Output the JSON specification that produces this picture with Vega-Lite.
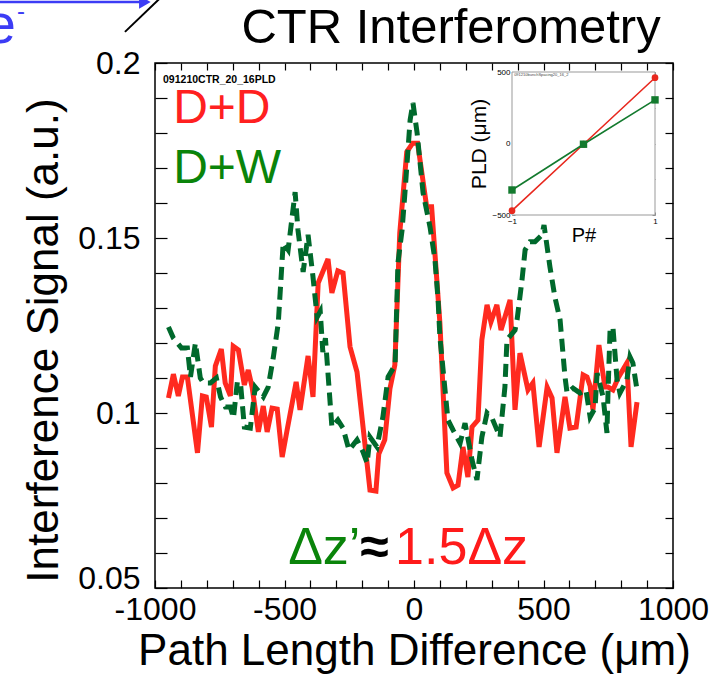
{
"$schema": "https://vega.github.io/schema/vega-lite/v6.json",
"width": 518, "height": 525,
"autosize": {"type": "none"},
"padding": {"left": 155, "top": 63, "right": 37, "bottom": 89},
"background": "white",
"config": {"font": "Liberation Sans", "view": {"stroke": "black", "strokeWidth": 1.5},
  "axis": {"domain": false, "grid": false, "labelFont": "Liberation Sans", "titleFont": "Liberation Sans", "tickColor": "black", "labelColor": "black", "titleColor": "black", "titleFontWeight": "normal", "labelFlush": false, "labelOverlap": false}},
"datasets": {
 "dd": [
  {"x":-948,"y":0.1043},{"x":-929,"y":0.1111},{"x":-910,"y":0.1049},{"x":-894,"y":0.1103},{"x":-875,"y":0.1103},{"x":-836,"y":0.0886},{"x":-817,"y":0.1049},{"x":-802,"y":0.1046},{"x":-782,"y":0.0960},{"x":-767,"y":0.1134},{"x":-744,"y":0.1183},{"x":-729,"y":0.1086},{"x":-709,"y":0.1049},{"x":-698,"y":0.1191},{"x":-678,"y":0.1180},{"x":-655,"y":0.1080},{"x":-640,"y":0.1123},{"x":-625,"y":0.1074},{"x":-601,"y":0.0946},{"x":-582,"y":0.1020},{"x":-567,"y":0.0946},{"x":-548,"y":0.1014},{"x":-528,"y":0.1011},{"x":-509,"y":0.0874},{"x":-490,"y":0.0951},{"x":-455,"y":0.1089},{"x":-440,"y":0.1009},{"x":-409,"y":0.1163},{"x":-390,"y":0.1046},{"x":-370,"y":0.1371},{"x":-332,"y":0.1440},{"x":-317,"y":0.1343},{"x":-294,"y":0.1406},{"x":-274,"y":0.1400},{"x":-247,"y":0.1189},{"x":-220,"y":0.1117},{"x":-170,"y":0.0780},{"x":-147,"y":0.0777},{"x":-136,"y":0.0883},{"x":-113,"y":0.0923},{"x":-93,"y":0.1069},{"x":-74,"y":0.1137},{"x":-55,"y":0.1514},{"x":-28,"y":0.1746},{"x":-5,"y":0.1771},{"x":14,"y":0.1771},{"x":49,"y":0.1589},{"x":68,"y":0.1589},{"x":100,"y":0.1257},{"x":127,"y":0.0829},{"x":151,"y":0.0786},{"x":170,"y":0.0794},{"x":189,"y":0.0903},{"x":208,"y":0.0817},{"x":224,"y":0.0960},{"x":247,"y":0.0980},{"x":262,"y":0.1209},{"x":282,"y":0.1309},{"x":297,"y":0.1260},{"x":320,"y":0.1309},{"x":336,"y":0.1237},{"x":371,"y":0.1323},{"x":390,"y":0.1009},{"x":409,"y":0.1171},{"x":440,"y":0.1066},{"x":459,"y":0.1086},{"x":483,"y":0.0903},{"x":514,"y":0.1074},{"x":533,"y":0.1043},{"x":552,"y":0.0886},{"x":583,"y":0.1046},{"x":602,"y":0.0957},{"x":626,"y":0.0960},{"x":653,"y":0.1109},{"x":668,"y":0.1103},{"x":680,"y":0.1077},{"x":691,"y":0.1009},{"x":714,"y":0.1194},{"x":737,"y":0.1074},{"x":749,"y":0.1074},{"x":768,"y":0.1066},{"x":788,"y":0.1100},{"x":822,"y":0.1143},{"x":838,"y":0.0903},{"x":861,"y":0.1031}
 ],
 "dw": [
  {"x":-948,"y":0.1246},{"x":-929,"y":0.1214},{"x":-898,"y":0.1186},{"x":-875,"y":0.1186},{"x":-863,"y":0.1103},{"x":-844,"y":0.1200},{"x":-825,"y":0.1100},{"x":-813,"y":0.1086},{"x":-786,"y":0.1086},{"x":-763,"y":0.1100},{"x":-747,"y":0.1046},{"x":-728,"y":0.1017},{"x":-709,"y":0.1017},{"x":-697,"y":0.0986},{"x":-682,"y":0.1089},{"x":-670,"y":0.1086},{"x":-655,"y":0.0960},{"x":-632,"y":0.0957},{"x":-613,"y":0.1074},{"x":-582,"y":0.1046},{"x":-563,"y":0.1074},{"x":-543,"y":0.1160},{"x":-524,"y":0.1257},{"x":-505,"y":0.1486},{"x":-486,"y":0.1466},{"x":-459,"y":0.1631},{"x":-448,"y":0.1523},{"x":-428,"y":0.1403},{"x":-409,"y":0.1509},{"x":-390,"y":0.1389},{"x":-374,"y":0.1274},{"x":-362,"y":0.1290},{"x":-352,"y":0.1174},{"x":-342,"y":0.1214},{"x":-317,"y":0.0960},{"x":-294,"y":0.0980},{"x":-274,"y":0.0957},{"x":-251,"y":0.0894},{"x":-220,"y":0.0923},{"x":-197,"y":0.0889},{"x":-181,"y":0.0857},{"x":-170,"y":0.0931},{"x":-143,"y":0.0903},{"x":-120,"y":0.0989},{"x":-100,"y":0.1103},{"x":-73,"y":0.1137},{"x":-62,"y":0.1429},{"x":-46,"y":0.1523},{"x":-35,"y":0.1629},{"x":-15,"y":0.1837},{"x":-4,"y":0.1886},{"x":12,"y":0.1800},{"x":35,"y":0.1629},{"x":62,"y":0.1531},{"x":81,"y":0.1437},{"x":93,"y":0.1323},{"x":100,"y":0.1217},{"x":131,"y":0.0980},{"x":151,"y":0.0951},{"x":178,"y":0.0914},{"x":197,"y":0.0971},{"x":224,"y":0.0866},{"x":243,"y":0.0809},{"x":262,"y":0.0931},{"x":282,"y":0.1000},{"x":301,"y":0.0986},{"x":332,"y":0.0931},{"x":351,"y":0.1074},{"x":359,"y":0.1209},{"x":390,"y":0.1237},{"x":398,"y":0.1266},{"x":417,"y":0.1380},{"x":429,"y":0.1466},{"x":448,"y":0.1489},{"x":467,"y":0.1489},{"x":494,"y":0.1509},{"x":502,"y":0.1537},{"x":525,"y":0.1417},{"x":544,"y":0.1331},{"x":564,"y":0.1266},{"x":583,"y":0.1103},{"x":591,"y":0.1057},{"x":614,"y":0.1071},{"x":641,"y":0.1057},{"x":664,"y":0.1066},{"x":680,"y":0.0989},{"x":699,"y":0.1014},{"x":707,"y":0.1114},{"x":730,"y":0.1046},{"x":745,"y":0.0943},{"x":749,"y":0.1057},{"x":757,"y":0.1237},{"x":768,"y":0.1246},{"x":784,"y":0.1094},{"x":795,"y":0.1057},{"x":822,"y":0.1094},{"x":834,"y":0.1160},{"x":845,"y":0.1143},{"x":861,"y":0.1066}
 ],
 "inset": [
  {"s":"D+D","p":-1,"pld":-470},{"s":"D+D","p":0,"pld":-5},{"s":"D+D","p":1,"pld":460},
  {"s":"D+W","p":-1,"pld":-325},{"s":"D+W","p":0,"pld":-5},{"s":"D+W","p":1,"pld":305}
 ],
 "one": [{}]
},
"layer": [
 {
  "layer": [
   {"data": {"name": "dd"}, "mark": {"type": "line", "color": "#ff2a1f", "strokeWidth": 5},
    "encoding": {
     "x": {"field": "x", "type": "quantitative", "scale": {"domain": [-1000, 1000], "nice": false, "zero": false},
       "axis": {"orient": "bottom", "values": [-1000,-900,-800,-700,-600,-500,-400,-300,-200,-100,0,100,200,300,400,500,600,700,800,900,1000],
         "labelExpr": "datum.value % 500 == 0 ? toString(datum.value) : ''", "tickSize": -8, "tickWidth": 1.2,
         "labelFontSize": 32, "labelPadding": 14, "title": "Path Length Difference (μm)", "titleFontSize": 44, "titlePadding": 4}},
     "y": {"field": "y", "type": "quantitative", "scale": {"domain": [0.05, 0.2], "nice": false, "zero": false},
       "axis": {"orient": "left", "values": [0.05,0.06,0.07,0.08,0.09,0.1,0.11,0.12,0.13,0.14,0.15,0.16,0.17,0.18,0.19,0.2],
         "labelExpr": "indexof([5,10,15,20], round(datum.value*100)) >= 0 ? toString(round(datum.value*100)/100) : ''",
         "labelBaseline": {"condition": {"test": "round(datum.value*100) == 5", "value": "alphabetic"}, "value": "middle"},
         "tickSize": -12, "tickWidth": 1.2,
         "labelFontSize": 32, "labelPadding": 27, "title": "Interference Signal (a.u.)", "titleFontSize": 44, "titlePadding": 11, "titleY": 277}}
    }},
   {"data": {"name": "dw"}, "mark": {"type": "line", "color": "#00692c", "strokeWidth": 5, "strokeDash": [13, 7]},
    "encoding": {
     "x": {"field": "x", "type": "quantitative", "scale": {"domain": [-1000, 1000], "nice": false, "zero": false},
       "axis": {"orient": "top", "values": [-1000,-900,-800,-700,-600,-500,-400,-300,-200,-100,0,100,200,300,400,500,600,700,800,900,1000], "labels": false, "title": null, "tickSize": -7, "tickWidth": 1.2}},
     "y": {"field": "y", "type": "quantitative", "scale": {"domain": [0.05, 0.2], "nice": false, "zero": false},
       "axis": {"orient": "right", "values": [0.05,0.06,0.07,0.08,0.09,0.1,0.11,0.12,0.13,0.14,0.15,0.16,0.17,0.18,0.19,0.2], "labels": false, "title": null, "tickSize": -8, "tickWidth": 1.2}}
    }},
   {"data": {"name": "one"}, "mark": {"type": "text", "text": "091210CTR_20_16PLD", "align": "left", "baseline": "alphabetic", "fontSize": 10.5, "fontWeight": "bold", "color": "black"},
    "encoding": {"x": {"datum": -969, "type": "quantitative", "scale": {"domain": [-1000, 1000], "nice": false, "zero": false}, "axis": null},
                 "y": {"datum": 0.1943, "type": "quantitative", "scale": {"domain": [0.05, 0.2], "nice": false, "zero": false}, "axis": null}}},
   {"data": {"name": "one"}, "mark": {"type": "text", "text": "D+D", "align": "left", "baseline": "alphabetic", "fontSize": 48, "color": "#ff2020"},
    "encoding": {"x": {"datum": -930, "type": "quantitative", "scale": {"domain": [-1000, 1000], "nice": false, "zero": false}, "axis": null},
                 "y": {"datum": 0.1829, "type": "quantitative", "scale": {"domain": [0.05, 0.2], "nice": false, "zero": false}, "axis": null}}},
   {"data": {"name": "one"}, "mark": {"type": "text", "text": "D+W", "align": "left", "baseline": "alphabetic", "fontSize": 48, "color": "#0a840a"},
    "encoding": {"x": {"datum": -930, "type": "quantitative", "scale": {"domain": [-1000, 1000], "nice": false, "zero": false}, "axis": null},
                 "y": {"datum": 0.1657, "type": "quantitative", "scale": {"domain": [0.05, 0.2], "nice": false, "zero": false}, "axis": null}}},
   {"data": {"name": "one"}, "mark": {"type": "text", "text": "Δz’", "align": "left", "baseline": "alphabetic", "fontSize": 52, "color": "#0a840a"},
    "encoding": {"x": {"datum": -486, "type": "quantitative", "scale": {"domain": [-1000, 1000], "nice": false, "zero": false}, "axis": null},
                 "y": {"datum": 0.0569, "type": "quantitative", "scale": {"domain": [0.05, 0.2], "nice": false, "zero": false}, "axis": null}}},
   {"data": {"name": "one"}, "mark": {"type": "text", "text": "≈", "align": "left", "baseline": "alphabetic", "fontSize": 52, "fontWeight": "bold", "color": "black"},
    "encoding": {"x": {"datum": -208, "type": "quantitative", "scale": {"domain": [-1000, 1000], "nice": false, "zero": false}, "axis": null},
                 "y": {"datum": 0.0569, "type": "quantitative", "scale": {"domain": [0.05, 0.2], "nice": false, "zero": false}, "axis": null}}},
   {"data": {"name": "one"}, "mark": {"type": "text", "text": "1.5Δz", "align": "left", "baseline": "alphabetic", "fontSize": 52, "color": "#ff1a1a"},
    "encoding": {"x": {"datum": -73, "type": "quantitative", "scale": {"domain": [-1000, 1000], "nice": false, "zero": false}, "axis": null},
                 "y": {"datum": 0.0569, "type": "quantitative", "scale": {"domain": [0.05, 0.2], "nice": false, "zero": false}, "axis": null}}},
   {"data": {"name": "one"}, "mark": {"type": "text", "text": "CTR Interferometry", "align": "center", "baseline": "alphabetic", "fontSize": 49, "color": "black"},
    "encoding": {"x": {"datum": 143, "type": "quantitative", "scale": {"domain": [-1000, 1000], "nice": false, "zero": false}, "axis": null},
                 "y": {"datum": 0.2057, "type": "quantitative", "scale": {"domain": [0.05, 0.2], "nice": false, "zero": false}, "axis": null}}},
   {"data": {"name": "one"}, "mark": {"type": "text", "text": "e", "align": "right", "baseline": "alphabetic", "fontSize": 56, "color": "#3c3cf5"},
    "encoding": {"x": {"datum": -1537, "type": "quantitative", "scale": {"domain": [-1000, 1000], "nice": false, "zero": false}, "axis": null},
                 "y": {"datum": 0.2057, "type": "quantitative", "scale": {"domain": [0.05, 0.2], "nice": false, "zero": false}, "axis": null}}},
   {"data": {"name": "one"}, "mark": {"type": "text", "text": "-", "align": "left", "baseline": "alphabetic", "fontSize": 24, "color": "#3c3cf5"},
    "encoding": {"x": {"datum": -1533, "type": "quantitative", "scale": {"domain": [-1000, 1000], "nice": false, "zero": false}, "axis": null},
                 "y": {"datum": 0.2127, "type": "quantitative", "scale": {"domain": [0.05, 0.2], "nice": false, "zero": false}, "axis": null}}},
   {"data": {"name": "one"}, "mark": {"type": "rule", "color": "#3c3cf5", "strokeWidth": 2.5},
    "encoding": {"x": {"datum": -1600, "type": "quantitative", "scale": {"domain": [-1000, 1000], "nice": false, "zero": false}, "axis": null},
                 "x2": {"datum": -1045},
                 "y": {"datum": 0.2174, "type": "quantitative", "scale": {"domain": [0.05, 0.2], "nice": false, "zero": false}, "axis": null}}},
   {"data": {"name": "one"}, "mark": {"type": "point", "shape": "triangle-right", "filled": true, "size": 180, "color": "#3c3cf5", "opacity": 1},
    "encoding": {"x": {"datum": -1039, "type": "quantitative", "scale": {"domain": [-1000, 1000], "nice": false, "zero": false}, "axis": null},
                 "y": {"datum": 0.2174, "type": "quantitative", "scale": {"domain": [0.05, 0.2], "nice": false, "zero": false}, "axis": null}}},
   {"data": {"name": "one"}, "mark": {"type": "rule", "color": "black", "strokeWidth": 2},
    "encoding": {"x": {"datum": -1116, "type": "quantitative", "scale": {"domain": [-1000, 1000], "nice": false, "zero": false}, "axis": null},
                 "x2": {"datum": -975},
                 "y": {"datum": 0.2089, "type": "quantitative", "scale": {"domain": [0.05, 0.2], "nice": false, "zero": false}, "axis": null},
                 "y2": {"datum": 0.2189}}}
  ],
  "resolve": {"axis": {"x": "independent", "y": "independent"}}
 },
 {
  "layer": [
   {"data": {"name": "one"}, "mark": {"type": "rect", "fill": "white", "stroke": "#999999", "strokeWidth": 1},
    "encoding": {
     "x": {"datum": -1, "type": "quantitative", "scale": {"domain": [-1, 1], "range": [357, 500], "nice": false, "zero": false},
       "axis": {"orient": "bottom", "offset": -373, "values": [-1, 0, 1], "format": "d", "tickSize": -3, "tickColor": "#888888", "labelFontSize": 8, "labelPadding": 5, "title": "P#", "titleFontSize": 20, "titlePadding": 0}},
     "x2": {"datum": 1},
     "y": {"datum": -500, "type": "quantitative", "scale": {"domain": [-500, 500], "range": [152, 9], "nice": false, "zero": false},
       "axis": {"orient": "left", "offset": -357, "values": [-500, 0, 500], "format": "d", "tickSize": -3, "tickColor": "#888888", "labelFontSize": 8, "labelPadding": 5, "title": "PLD (μm)", "titleFontSize": 21, "titlePadding": 2}},
     "y2": {"datum": 500}
    }},
   {"data": {"name": "inset"}, "mark": {"type": "line", "strokeWidth": 1.6},
    "encoding": {
     "x": {"field": "p", "type": "quantitative", "scale": {"domain": [-1, 1], "range": [357, 500], "nice": false, "zero": false},
       "axis": {"orient": "top", "offset": -9, "values": [-1, -0.5, 0, 0.5, 1], "labels": false, "title": null, "tickSize": -3, "tickColor": "#888888"}},
     "y": {"field": "pld", "type": "quantitative", "scale": {"domain": [-500, 500], "range": [152, 9], "nice": false, "zero": false},
       "axis": {"orient": "right", "offset": -18, "values": [-500, -250, 0, 250, 500], "labels": false, "title": null, "tickSize": -3, "tickColor": "#888888"}},
     "color": {"field": "s", "type": "nominal", "scale": {"domain": ["D+D", "D+W"], "range": ["#e8281e", "#137a2e"]}, "legend": null}
    }},
   {"data": {"name": "inset"}, "transform": [{"filter": "datum.s == 'D+D'"}], "mark": {"type": "point", "shape": "circle", "filled": true, "size": 45, "color": "#e8281e", "opacity": 1},
    "encoding": {
     "x": {"field": "p", "type": "quantitative", "scale": {"domain": [-1, 1], "range": [357, 500], "nice": false, "zero": false}, "axis": null},
     "y": {"field": "pld", "type": "quantitative", "scale": {"domain": [-500, 500], "range": [152, 9], "nice": false, "zero": false}, "axis": null}
    }},
   {"data": {"name": "inset"}, "transform": [{"filter": "datum.s == 'D+W'"}], "mark": {"type": "point", "shape": "square", "filled": true, "size": 55, "color": "#137a2e", "opacity": 1},
    "encoding": {
     "x": {"field": "p", "type": "quantitative", "scale": {"domain": [-1, 1], "range": [357, 500], "nice": false, "zero": false}, "axis": null},
     "y": {"field": "pld", "type": "quantitative", "scale": {"domain": [-500, 500], "range": [152, 9], "nice": false, "zero": false}, "axis": null}
    }},
   {"data": {"name": "one"}, "mark": {"type": "text", "text": "091210bunchSpacing20_16_2", "align": "left", "baseline": "top", "fontSize": 4, "color": "#444444"},
    "encoding": {
     "x": {"datum": -0.97, "type": "quantitative", "scale": {"domain": [-1, 1], "range": [357, 500], "nice": false, "zero": false}, "axis": null},
     "y": {"datum": 490, "type": "quantitative", "scale": {"domain": [-500, 500], "range": [152, 9], "nice": false, "zero": false}, "axis": null}
    }}
  ],
  "resolve": {"axis": {"x": "independent", "y": "independent"}}
 }
],
"resolve": {"scale": {"x": "independent", "y": "independent", "color": "independent"}, "axis": {"x": "independent", "y": "independent"}}
}
